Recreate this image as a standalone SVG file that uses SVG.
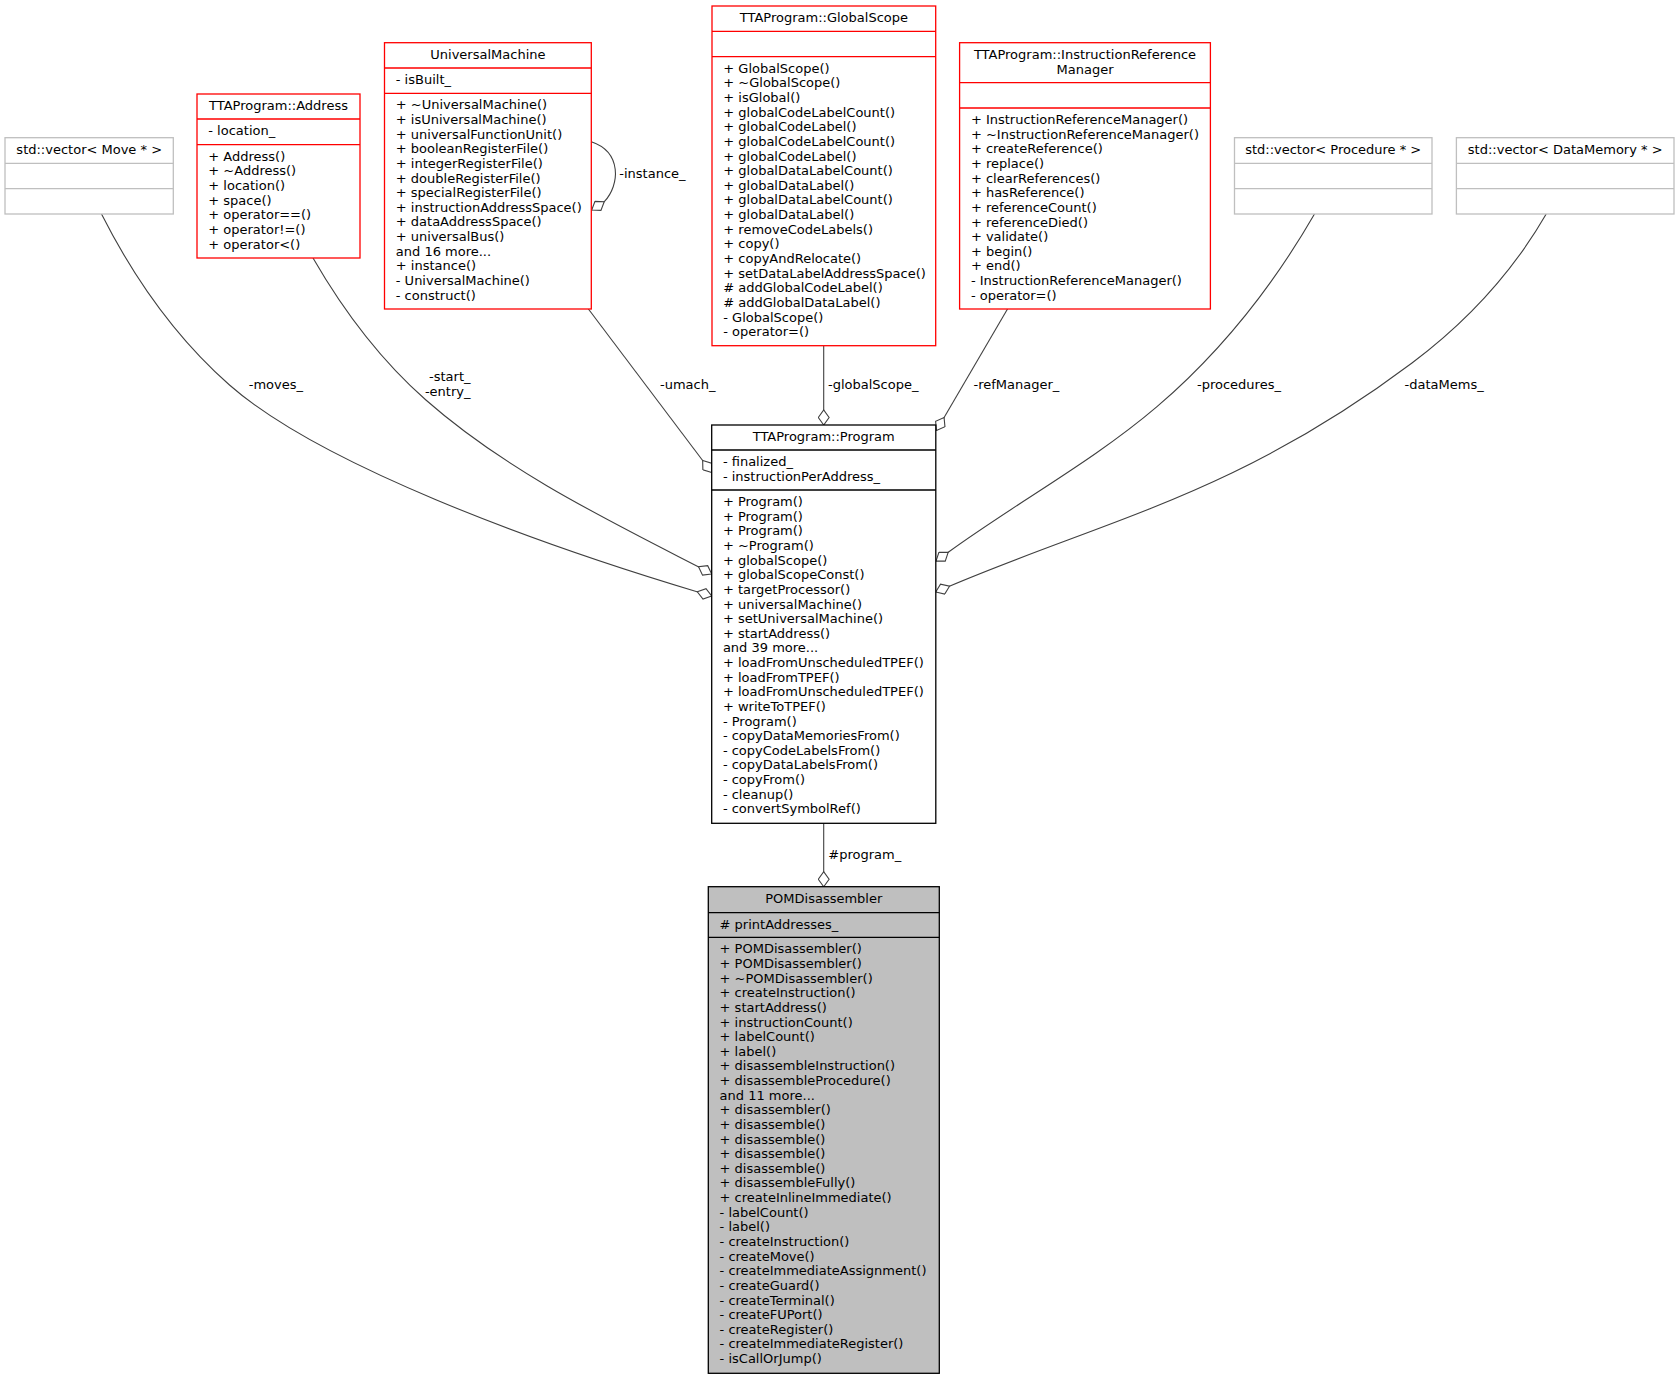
<svg xmlns="http://www.w3.org/2000/svg" width="1679" height="1380" viewBox="0 0 1679 1380">
<style>
text{font-family:"DejaVu Sans","Noto Sans",sans-serif;font-size:13px;fill:#000}
.hd{text-anchor:middle}
.box{fill:#fff;stroke-width:1.3}
.red{stroke:#ff0000}
.ext{stroke:#bfbfbf}
.blk{stroke:#000}
.root{fill:#bfbfbf;stroke:#000;stroke-width:1.3}
.sep{stroke-width:1.3}
.e{fill:none;stroke:#404040;stroke-width:1.1;marker-start:url(#od)}
.lbl{font-size:13px}
.end{text-anchor:end}
</style>
<defs>
<marker id="od" markerUnits="userSpaceOnUse" viewBox="0 0 17 12" refX="0.5" refY="6" markerWidth="17" markerHeight="12" orient="auto">
<path d="M0.5,6 L8,0.6 L15.5,6 L8,11.4 Z" fill="#fff" stroke="#404040" stroke-width="1.1"/>
</marker>
</defs>
<rect x="0" y="0" width="1679" height="1380" fill="#fff"/>

<g id="connectors">
<path class="e" d="M711.7,596 L697,591.7 C534.1,542.9 319.5,464.2 229.5,385 C176.2,338.1 133.5,277.2 101.5,214"/>
<path class="e" d="M711.7,574 L698.3,566.7 C604.1,518.3 505.4,470 425.9,400 C380.9,360.4 343,310 313,258"/>
<path class="e" d="M711.7,472.5 L588.4,309"/>
<path class="e" d="M823.7,425 L823.7,345.7"/>
<path class="e" d="M936.5,430.5 L1007.5,309"/>
<path class="e" d="M936,561.1 L948.6,552 C1017.5,502 1093,461.3 1157,406.7 C1220,352.7 1273,285.9 1314.5,214"/>
<path class="e" d="M935.7,592 L950,586 C1107.3,519.3 1236,495 1412,363 C1465.6,322.8 1512.7,272 1546.2,214"/>
<path class="e" d="M591.7,210 L604.3,201.7 C620,185 622,152 591.3,141.7"/>
<path class="e" d="M823.7,886.7 L823.7,823.3"/>
<text class="lbl" x="248.7" y="389.4">-moves_</text>
<text class="lbl end" x="470.5" y="381.1">-start_</text>
<text class="lbl end" x="470.5" y="396.1">-entry_</text>
<text class="lbl" x="660" y="389.4">-umach_</text>
<text class="lbl" x="828" y="389.4">-globalScope_</text>
<text class="lbl" x="973.5" y="389.4">-refManager_</text>
<text class="lbl" x="1197" y="389.4">-procedures_</text>
<text class="lbl" x="1404.6" y="389.4">-dataMems_</text>
<text class="lbl" x="828.3" y="858.7">#program_</text>
<text class="lbl" x="619.3" y="178.4">-instance_</text>
</g>

<g id="vectorMove">
<rect class="box ext" x="5" y="137.7" width="168.3" height="76.3"/>
<path class="sep ext" d="M5,163.3 H173.3 M5,188.7 H173.3"/>
<text class="hd" x="89.2" y="154">std::vector&lt; Move * &gt;</text>
</g>

<g id="address">
<rect class="box red" x="197" y="94" width="163" height="164"/>
<path class="sep red" d="M197,119 H360 M197,144.7 H360"/>
<text class="hd" x="278.5" y="110.3">TTAProgram::Address</text>
<text x="208.3" y="135.1">- location_</text>
<text x="208.3" y="160.8"><tspan x="208.3">+ Address()</tspan><tspan x="208.3" dy="14.63">+ ~Address()</tspan><tspan x="208.3" dy="14.63">+ location()</tspan><tspan x="208.3" dy="14.63">+ space()</tspan><tspan x="208.3" dy="14.63">+ operator==()</tspan><tspan x="208.3" dy="14.63">+ operator!=()</tspan><tspan x="208.3" dy="14.63">+ operator&lt;()</tspan></text>
</g>

<g id="universalMachine">
<rect class="box red" x="384.5" y="42.7" width="206.8" height="266.3"/>
<path class="sep red" d="M384.5,68 H591.3 M384.5,93.3 H591.3"/>
<text class="hd" x="487.9" y="59">UniversalMachine</text>
<text x="395.8" y="84.1">- isBuilt_</text>
<text x="395.8" y="109.4"><tspan x="395.8">+ ~UniversalMachine()</tspan><tspan x="395.8" dy="14.63">+ isUniversalMachine()</tspan><tspan x="395.8" dy="14.63">+ universalFunctionUnit()</tspan><tspan x="395.8" dy="14.63">+ booleanRegisterFile()</tspan><tspan x="395.8" dy="14.63">+ integerRegisterFile()</tspan><tspan x="395.8" dy="14.63">+ doubleRegisterFile()</tspan><tspan x="395.8" dy="14.63">+ specialRegisterFile()</tspan><tspan x="395.8" dy="14.63">+ instructionAddressSpace()</tspan><tspan x="395.8" dy="14.63">+ dataAddressSpace()</tspan><tspan x="395.8" dy="14.63">+ universalBus()</tspan><tspan x="395.8" dy="14.63">and 16 more...</tspan><tspan x="395.8" dy="14.63">+ instance()</tspan><tspan x="395.8" dy="14.63">- UniversalMachine()</tspan><tspan x="395.8" dy="14.63">- construct()</tspan></text>
</g>

<g id="globalScope">
<rect class="box red" x="712" y="6" width="223.7" height="339.7"/>
<path class="sep red" d="M712,31.3 H935.7 M712,56.7 H935.7"/>
<text class="hd" x="823.9" y="22.3">TTAProgram::GlobalScope</text>
<text x="723.3" y="72.8"><tspan x="723.3">+ GlobalScope()</tspan><tspan x="723.3" dy="14.63">+ ~GlobalScope()</tspan><tspan x="723.3" dy="14.63">+ isGlobal()</tspan><tspan x="723.3" dy="14.63">+ globalCodeLabelCount()</tspan><tspan x="723.3" dy="14.63">+ globalCodeLabel()</tspan><tspan x="723.3" dy="14.63">+ globalCodeLabelCount()</tspan><tspan x="723.3" dy="14.63">+ globalCodeLabel()</tspan><tspan x="723.3" dy="14.63">+ globalDataLabelCount()</tspan><tspan x="723.3" dy="14.63">+ globalDataLabel()</tspan><tspan x="723.3" dy="14.63">+ globalDataLabelCount()</tspan><tspan x="723.3" dy="14.63">+ globalDataLabel()</tspan><tspan x="723.3" dy="14.63">+ removeCodeLabels()</tspan><tspan x="723.3" dy="14.63">+ copy()</tspan><tspan x="723.3" dy="14.63">+ copyAndRelocate()</tspan><tspan x="723.3" dy="14.63">+ setDataLabelAddressSpace()</tspan><tspan x="723.3" dy="14.63"># addGlobalCodeLabel()</tspan><tspan x="723.3" dy="14.63"># addGlobalDataLabel()</tspan><tspan x="723.3" dy="14.63">- GlobalScope()</tspan><tspan x="723.3" dy="14.63">- operator=()</tspan></text>
</g>

<g id="instructionReferenceManager">
<rect class="box red" x="959.6" y="42.7" width="250.8" height="266.3"/>
<path class="sep red" d="M959.6,82.7 H1210.4 M959.6,108 H1210.4"/>
<text class="hd" x="1085" y="59">TTAProgram::InstructionReference</text>
<text class="hd" x="1085" y="73.6">Manager</text>
<text x="970.9" y="124.1"><tspan x="970.9">+ InstructionReferenceManager()</tspan><tspan x="970.9" dy="14.63">+ ~InstructionReferenceManager()</tspan><tspan x="970.9" dy="14.63">+ createReference()</tspan><tspan x="970.9" dy="14.63">+ replace()</tspan><tspan x="970.9" dy="14.63">+ clearReferences()</tspan><tspan x="970.9" dy="14.63">+ hasReference()</tspan><tspan x="970.9" dy="14.63">+ referenceCount()</tspan><tspan x="970.9" dy="14.63">+ referenceDied()</tspan><tspan x="970.9" dy="14.63">+ validate()</tspan><tspan x="970.9" dy="14.63">+ begin()</tspan><tspan x="970.9" dy="14.63">+ end()</tspan><tspan x="970.9" dy="14.63">- InstructionReferenceManager()</tspan><tspan x="970.9" dy="14.63">- operator=()</tspan></text>
</g>

<g id="vectorProcedure">
<rect class="box ext" x="1234.5" y="137.7" width="197.5" height="76.3"/>
<path class="sep ext" d="M1234.5,163.3 H1432 M1234.5,188.7 H1432"/>
<text class="hd" x="1333.2" y="154">std::vector&lt; Procedure * &gt;</text>
</g>

<g id="vectorDataMemory">
<rect class="box ext" x="1456.4" y="137.7" width="217.6" height="76.3"/>
<path class="sep ext" d="M1456.4,163.3 H1674 M1456.4,188.7 H1674"/>
<text class="hd" x="1565.2" y="154">std::vector&lt; DataMemory * &gt;</text>
</g>

<g id="program">
<rect class="box blk" x="711.7" y="425" width="224.1" height="398.3"/>
<path class="sep blk" d="M711.7,450 H935.8 M711.7,490 H935.8"/>
<text class="hd" x="823.7" y="441.3">TTAProgram::Program</text>
<text x="722.9" y="466.1"><tspan x="722.9">- finalized_</tspan><tspan x="722.9" dy="14.63">- instructionPerAddress_</tspan></text>
<text x="722.9" y="506.1"><tspan x="722.9">+ Program()</tspan><tspan x="722.9" dy="14.63">+ Program()</tspan><tspan x="722.9" dy="14.63">+ Program()</tspan><tspan x="722.9" dy="14.63">+ ~Program()</tspan><tspan x="722.9" dy="14.63">+ globalScope()</tspan><tspan x="722.9" dy="14.63">+ globalScopeConst()</tspan><tspan x="722.9" dy="14.63">+ targetProcessor()</tspan><tspan x="722.9" dy="14.63">+ universalMachine()</tspan><tspan x="722.9" dy="14.63">+ setUniversalMachine()</tspan><tspan x="722.9" dy="14.63">+ startAddress()</tspan><tspan x="722.9" dy="14.63">and 39 more...</tspan><tspan x="722.9" dy="14.63">+ loadFromUnscheduledTPEF()</tspan><tspan x="722.9" dy="14.63">+ loadFromTPEF()</tspan><tspan x="722.9" dy="14.63">+ loadFromUnscheduledTPEF()</tspan><tspan x="722.9" dy="14.63">+ writeToTPEF()</tspan><tspan x="722.9" dy="14.63">- Program()</tspan><tspan x="722.9" dy="14.63">- copyDataMemoriesFrom()</tspan><tspan x="722.9" dy="14.63">- copyCodeLabelsFrom()</tspan><tspan x="722.9" dy="14.63">- copyDataLabelsFrom()</tspan><tspan x="722.9" dy="14.63">- copyFrom()</tspan><tspan x="722.9" dy="14.63">- cleanup()</tspan><tspan x="722.9" dy="14.63">- convertSymbolRef()</tspan></text>
</g>

<g id="pomDisassembler">
<rect class="root" x="708.3" y="886.7" width="231" height="486.6"/>
<path class="sep blk" d="M708.3,912.7 H939.3 M708.3,937.3 H939.3"/>
<text class="hd" x="823.8" y="903">POMDisassembler</text>
<text x="719.6" y="928.8"># printAddresses_</text>
<text x="719.6" y="953.4"><tspan x="719.6">+ POMDisassembler()</tspan><tspan x="719.6" dy="14.63">+ POMDisassembler()</tspan><tspan x="719.6" dy="14.63">+ ~POMDisassembler()</tspan><tspan x="719.6" dy="14.63">+ createInstruction()</tspan><tspan x="719.6" dy="14.63">+ startAddress()</tspan><tspan x="719.6" dy="14.63">+ instructionCount()</tspan><tspan x="719.6" dy="14.63">+ labelCount()</tspan><tspan x="719.6" dy="14.63">+ label()</tspan><tspan x="719.6" dy="14.63">+ disassembleInstruction()</tspan><tspan x="719.6" dy="14.63">+ disassembleProcedure()</tspan><tspan x="719.6" dy="14.63">and 11 more...</tspan><tspan x="719.6" dy="14.63">+ disassembler()</tspan><tspan x="719.6" dy="14.63">+ disassemble()</tspan><tspan x="719.6" dy="14.63">+ disassemble()</tspan><tspan x="719.6" dy="14.63">+ disassemble()</tspan><tspan x="719.6" dy="14.63">+ disassemble()</tspan><tspan x="719.6" dy="14.63">+ disassembleFully()</tspan><tspan x="719.6" dy="14.63">+ createInlineImmediate()</tspan><tspan x="719.6" dy="14.63">- labelCount()</tspan><tspan x="719.6" dy="14.63">- label()</tspan><tspan x="719.6" dy="14.63">- createInstruction()</tspan><tspan x="719.6" dy="14.63">- createMove()</tspan><tspan x="719.6" dy="14.63">- createImmediateAssignment()</tspan><tspan x="719.6" dy="14.63">- createGuard()</tspan><tspan x="719.6" dy="14.63">- createTerminal()</tspan><tspan x="719.6" dy="14.63">- createFUPort()</tspan><tspan x="719.6" dy="14.63">- createRegister()</tspan><tspan x="719.6" dy="14.63">- createImmediateRegister()</tspan><tspan x="719.6" dy="14.63">- isCallOrJump()</tspan></text>
</g>
</svg>
